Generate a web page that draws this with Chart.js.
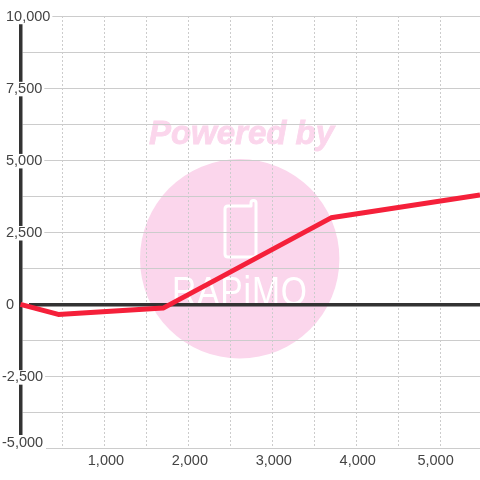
<!DOCTYPE html>
<html><head><meta charset="utf-8">
<style>html,body{margin:0;padding:0;background:#fff}canvas{display:block}</style>
<script src="https://cdn.jsdelivr.net/npm/chart.js@4/dist/chart.umd.min.js"></script>
</head><body>
<canvas id="c" width="480" height="480"></canvas>
<script>
const xValues = [0, 450, 1700, 3700, 5475];
const yValues = [0, -350, -130, 3000, 3790];
const xTicks = [0,500,1000,1500,2000,2500,3000,3500,4000,4500,5000];
const xTickLabels = {1000:'1,000',2000:'2,000',3000:'3,000',4000:'4,000',5000:'5,000\u00a0\u00a0\u00a0'};
const yTicks = [-5000,-3750,-2500,-1250,0,1250,2500,3750,5000,6250,7500,8750,10000];
const yTickLabels = {'-5000':['-5,000',''],'-2500':'-2,500','0':'\u00a00','2500':'\u00a02,500','5000':'\u00a05,000','7500':'\u00a07,500','10000':'\u00a010,000'};

const INK = '#333333', GRID = '#cccccc', TEXT = '#444444', RED = '#f5203a', PINK = '#fbd6ec';
const FONT = '"Liberation Sans", Arial, sans-serif';

const watermark = {
  id: 'watermark',
  beforeDraw(chart) {
    const c = chart.ctx;
    c.save();
    c.fillStyle = '#ffffff';
    c.fillRect(0, 0, 480, 480);
    c.fillStyle = PINK;
    c.beginPath(); c.arc(239.7, 258.8, 99.7, 0, Math.PI * 2); c.fill();
    c.font = 'italic bold 33px ' + FONT;
    c.textAlign = 'center'; c.textBaseline = 'middle';
    c.strokeStyle = PINK; c.lineWidth = 0.8;
    c.strokeText('Powered by', 241.5, 134.5);
    c.fillText('Powered by', 241.5, 134.5);
    c.strokeStyle = '#ffffff'; c.lineWidth = 3; c.lineJoin = 'round'; c.lineCap = 'round';
    c.beginPath();
    c.moveTo(251, 206); c.lineTo(228, 206);
    c.quadraticCurveTo(225, 206, 225, 209);
    c.lineTo(225, 254); c.quadraticCurveTo(225, 257, 228, 257);
    c.lineTo(253, 257); c.quadraticCurveTo(256, 257, 256, 254);
    c.lineTo(256, 203); c.quadraticCurveTo(256, 200.5, 253.5, 200.5);
    c.quadraticCurveTo(251, 200.5, 251, 203); c.lineTo(251, 206);
    c.stroke();
    c.fillStyle = '#ffffff';
    c.translate(172, 305);
    c.scale(0.82, 1);
    c.font = '41px ' + FONT;
    c.letterSpacing = '1px';
    c.textAlign = 'left'; c.textBaseline = 'alphabetic';
    c.fillText('RAPiMO', 0, 0);
    c.restore();
  }
};

// Clears the axis and grid behind the two labels whose backdrops cannot be drawn natively.
const labelGaps = {
  id: 'labelGaps',
  beforeDatasetsDraw(chart) {
    const c = chart.ctx, y = chart.scales.y;
    const bottom = y.getPixelForValue(-5000), zero = y.getPixelForValue(0);
    c.save();
    c.fillStyle = '#ffffff';
    c.fillRect(0, bottom - 13.5, 46, 15);
    c.fillRect(22, zero - 2.5, 7, 5);
    c.restore();
  }
};

new Chart(document.getElementById('c'), {
  type: 'scatter',
  data: { datasets: [{
    data: xValues.map((x, i) => ({ x, y: yValues[i] })),
    showLine: true, tension: 0, borderColor: RED, borderWidth: 5,
    pointRadius: 0, clip: false, borderJoinStyle: 'round', borderCapStyle: 'butt'
  }]},
  plugins: [watermark, labelGaps],
  options: {
    responsive: false, animation: false,
    layout: { padding: { left: 20.5, right: 0, top: 16, bottom: 0 } },
    plugins: { legend: { display: false }, title: { display: false }, tooltip: { enabled: false } },
    scales: {
      x: {
        type: 'linear', min: 0, max: 5475,
        afterBuildTicks: s => { s.ticks = xTicks.map(value => ({ value })); },
        afterFit: s => { s.height = 31.5; },
        border: { display: false, dash: [2, 2] },
        grid: {
          drawTicks: false, lineWidth: 1,
          color: ctx => ctx.tick && ctx.tick.value === 0 ? 'rgba(0,0,0,0)' : GRID
        },
        ticks: {
          autoSkip: false, maxRotation: 0, padding: 5, labelOffset: 1.5, color: TEXT,
          font: { family: FONT, size: 14.5, lineHeight: 1 },
          callback: v => xTickLabels[v] ?? ''
        }
      },
      y: {
        type: 'linear', min: -5000, max: 10000, position: 'left',
        afterBuildTicks: s => { s.ticks = yTicks.map(value => ({ value })); },
        afterFit: s => { s.width = 0; },
        border: { display: true, color: INK, width: 3.5, z: 0 },
        grid: {
          z: -1,
          drawTicks: false,
          color: ctx => ctx.tick && ctx.tick.value === 0 ? INK : GRID,
          lineWidth: ctx => ctx.tick && ctx.tick.value === 0 ? 3.5 : 1
        },
        ticks: {
          z: 1,
          autoSkip: false, mirror: true, crossAlign: 'near', padding: -18.5, labelOffset: 1, color: TEXT,
          font: ctx => ({ family: FONT, size: 14.5, lineHeight: ctx.tick && ctx.tick.value === -5000 ? '14px' : 1 }),
          showLabelBackdrop: ctx => !!ctx.tick && yTickLabels[ctx.tick.value] !== undefined && ctx.tick.value !== 0 && ctx.tick.value !== -5000,
          backdropColor: '#ffffff',
          backdropPadding: { left: 0, right: 2, top: 0, bottom: 0 },
          callback: v => yTickLabels[v] ?? ''
        }
      }
    }
  }
});
</script>
</body></html>
